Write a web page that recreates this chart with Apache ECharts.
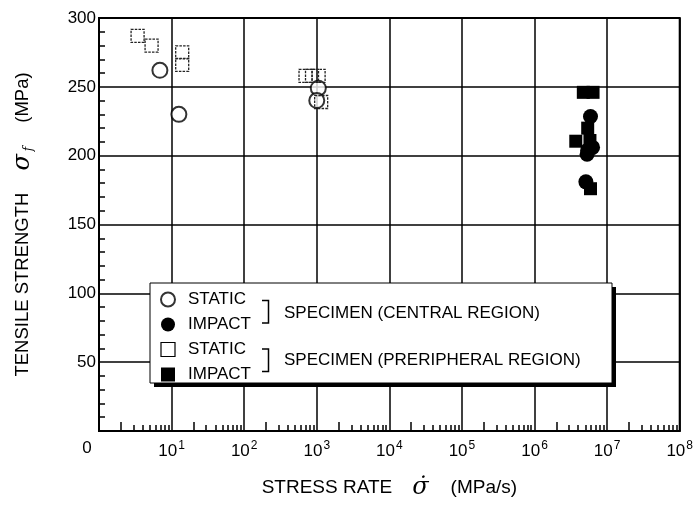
<!DOCTYPE html>
<html><head><meta charset="utf-8">
<script src="https://cdn.jsdelivr.net/npm/echarts@6/dist/echarts.min.js"></script>
<style>html,body{margin:0;padding:0;background:#fff}#c{width:696px;height:505px}</style>
</head><body><div id="c"></div>
<script>
// ---- data (stress rate in MPa/s, tensile strength in MPa) ----
const staticCentral = [[6.9,262],[12.6,230],[1050,249],[1000,240]];
const impactCentral = [[5.1e6,181],[5.9e6,228.5],[5.4e6,204],[5.3e6,201],[6.3e6,206]];
const staticPeripheral = [[3.4,287],[5.3,280],[14,275],[14,266],[700,258],[860,258],[1060,258],[1150,239]];
const impactPeripheral = [[4.7e6,246],[6.4e6,246],[5.4e6,220],[3.7e6,210.5],[5.8e6,211],[5.9e6,176]];
const legendLabels = ['STATIC','IMPACT','STATIC','IMPACT'];
const seriesNames = ['STATIC central','IMPACT central','STATIC peripheral','IMPACT peripheral'];
const groupLabels = ['SPECIMEN (CENTRAL REGION)','SPECIMEN (PRERIPHERAL REGION)'];
const xDecades = [0,1,2,3,4,5,6,7,8];
const yMin = 0, yMax = 300, yInterval = 50;
const xTitle = ['STRESS RATE','σ̇','(MPa/s)'];
const yTitle = ['TENSILE STRENGTH','σ','f','(MPa)'];

const FONT = '"Liberation Sans", Arial, Helvetica, sans-serif';
const minor2 = [], minorRest = [];
for (let d = 0; d < 8; d++) {
  minor2.push(2 * Math.pow(10, d));
  for (let m = 3; m <= 9; m++) minorRest.push(m * Math.pow(10, d));
}

const chart = echarts.init(document.getElementById('c'), null, {renderer: 'canvas'});
const black = '#000';
const hiddenLogAxis = (vals, len) => ({
  type: 'log', logBase: 10, min: 1, max: 1e8, position: 'bottom',
  axisLine: {show: false}, axisLabel: {show: false}, splitLine: {show: false},
  axisTick: {show: true, inside: true, length: len, customValues: vals, lineStyle: {color: black, width: 1.5}}
});

const option = {
  backgroundColor: '#fff',
  animation: false,
  textStyle: {fontFamily: FONT, color: black},
  grid: {left: 99, right: 12, top: 18, bottom: 70, show: true, borderColor: black, borderWidth: 2, backgroundColor: 'transparent'},
  xAxis: [{
    type: 'log', logBase: 10, min: 1, max: 1e8, splitNumber: 8,
    axisLine: {show: true, lineStyle: {color: black, width: 2}},
    axisTick: {show: false},
    splitLine: {show: true, lineStyle: {color: black, width: 1.5}},
    axisLabel: {
      margin: 9, color: black, fontFamily: FONT, fontSize: 17, showMinLabel: true, showMaxLabel: true,
      customValues: xDecades.map(e => Math.pow(10, e)),
      formatter: v => {
        const e = Math.round(Math.log10(v));
        if (e === 0) return '{z|0}';
        return '{b|10}{s|' + e + '}';
      },
      rich: {
        z: {fontSize: 17, fontFamily: FONT, color: black, padding: [0, 24, 0, 0]},
        b: {fontSize: 17, fontFamily: FONT, color: black},
        s: {fontSize: 12, fontFamily: FONT, color: black, padding: [0, 0, 10, 1]}
      }
    },
    name: '{t|' + xTitle[0] + '}{s|' + xTitle[1] + '}{t|' + xTitle[2] + '}',
    nameLocation: 'middle', nameGap: 45,
    nameTextStyle: {
      rich: {
        t: {fontSize: 19, fontFamily: FONT, color: black},
        s: {fontSize: 24, fontFamily: '"DejaVu Serif", serif', fontStyle: 'italic', color: black, padding: [0, 22, 0, 20]}
      }
    }
  }, hiddenLogAxis(minor2, 9), hiddenLogAxis(minorRest, 6)],
  yAxis: {
    type: 'value', min: yMin, max: yMax, interval: yInterval,
    axisLine: {show: true, lineStyle: {color: black, width: 2}},
    axisTick: {show: false, inside: true},
    minorTick: {show: true, splitNumber: 5, length: 6, lineStyle: {color: black, width: 1.5}},
    splitLine: {show: true, lineStyle: {color: black, width: 1.5}},
    axisLabel: {margin: 3, color: black, fontFamily: FONT, fontSize: 17, formatter: v => v === 0 ? '' : String(v)},
    name: '{t|' + yTitle[0] + '}{s|' + yTitle[1] + '}{f|' + yTitle[2] + '}{t|' + yTitle[3] + '}',
    nameLocation: 'middle', nameGap: 64, nameRotate: 90,
    nameTextStyle: {
      rich: {
        t: {fontSize: 18.5, fontFamily: FONT, color: black},
        s: {fontSize: 24, fontFamily: '"DejaVu Serif", serif', fontStyle: 'italic', color: black, padding: [0, 0, 0, 22]},
        f: {fontSize: 12, fontFamily: '"DejaVu Serif", serif', fontStyle: 'italic', color: black, padding: [11, 24, 0, 3]}
      }
    }
  },
  legend: {
    orient: 'vertical', left: 160, top: 291, padding: 0, itemGap: 8,
    itemWidth: 14, itemHeight: 14, z: 20, selectedMode: false,
    data: [
      {name: seriesNames[0], icon: 'circle', itemStyle: {color: '#fff', borderColor: black, borderWidth: 2}},
      {name: seriesNames[1], icon: 'circle', itemStyle: {color: black, borderColor: black, borderWidth: 0}},
      {name: seriesNames[2], icon: 'rect', itemStyle: {color: '#fff', borderColor: black, borderWidth: 1.2}},
      {name: seriesNames[3], icon: 'rect', itemStyle: {color: black, borderColor: black, borderWidth: 0}}
    ],
    formatter: n => '{a|' + legendLabels[seriesNames.indexOf(n)] + '}',
    textStyle: {fontFamily: FONT, fontSize: 17, color: black, lineHeight: 16,
      rich: {a: {fontFamily: FONT, fontSize: 17, color: black, padding: [0, 0, 0, 8]}}}
  },
  graphic: [
    {type: 'rect', z: 10, shape: {x: 154, y: 287, width: 462, height: 100}, style: {fill: black}},
    {type: 'rect', z: 11, shape: {x: 150, y: 283, width: 462, height: 100}, style: {fill: '#fff', stroke: black, lineWidth: 1}},
    {type: 'polyline', z: 12, shape: {points: [[262, 300.5], [268.5, 300.5], [268.5, 323], [262, 323]]}, style: {stroke: black, lineWidth: 1.5, fill: null}},
    {type: 'polyline', z: 12, shape: {points: [[262, 349], [268.5, 349], [268.5, 371.5], [262, 371.5]]}, style: {stroke: black, lineWidth: 1.5, fill: null}},
    {type: 'text', z: 12, x: 284, y: 313, style: {text: groupLabels[0], font: '17px ' + FONT, fill: black, verticalAlign: 'middle'}},
    {type: 'text', z: 12, x: 284, y: 360, style: {text: groupLabels[1], font: '17px ' + FONT, fill: black, verticalAlign: 'middle'}}
  ],
  series: [
    {name: seriesNames[0], type: 'scatter', symbol: 'circle', symbolSize: 15, data: staticCentral,
      itemStyle: {color: '#fff', borderColor: black, borderWidth: 2}},
    {name: seriesNames[1], type: 'scatter', symbol: 'circle', symbolSize: 15, data: impactCentral,
      itemStyle: {color: black, borderWidth: 0, opacity: 1}},
    {name: seriesNames[2], type: 'scatter', symbol: 'rect', symbolSize: 13, data: staticPeripheral,
      itemStyle: {color: 'rgba(255,255,255,0)', borderColor: '#222', borderWidth: 1.3, borderType: [2.5, 1.2], opacity: 1}},
    {name: seriesNames[3], type: 'scatter', symbol: 'rect', symbolSize: 13, data: impactPeripheral,
      itemStyle: {color: black, borderWidth: 0, opacity: 1}}
  ]
};
chart.setOption(option);
</script></body></html>
